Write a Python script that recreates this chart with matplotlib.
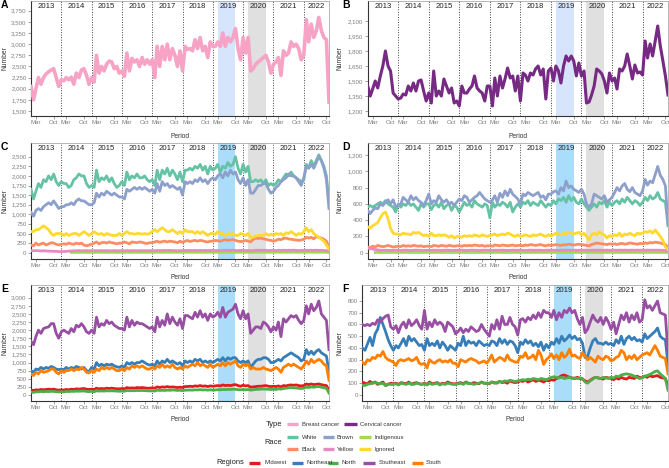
import matplotlib
matplotlib.use('Agg')
import matplotlib.pyplot as plt
from matplotlib.lines import Line2D
from matplotlib.ticker import FuncFormatter
import numpy as np
import pandas as pd

plt.rcParams['font.family'] = ['Liberation Sans', 'DejaVu Sans']

dates = pd.date_range('2013-01-01', '2022-11-01', freq='MS')
years = list(range(2013, 2023))
N = np.nan

# ---- Panel A / B : by type ----
breast = [2050, 1750, 2000, 2250, 2100, 2250, 2330, 2380, 2420, 2450, 2250, 2050,
          2200, 2180, 2250, 2200, 2260, 2100, 2350, 2250, 2420, 2450, 2300, 2100,
          2250, 2150, 2750, 2350, 2500, 2400, 2550, 2620, 2600, 2450, 2500, 2350,
          2400, 2280, 2800, 2400, 2680, 2600, 2650, 2500, 2700, 2550, 2650, 2550,
          2650, 2250, 2950, 2500, 2950, 2650, 3000, 2650, 2900, 2750, 2500, 2850,
          2400, 2950, 2880, 2900, 2850, 3100, 2900, 3150, 2850, 2950, 2700, 3050,
          2950, 2950, 3050, 2950, 3250, 2950, 3150, 3050, 3150, 3350, 2900, 2650,
          3150, 2800, 3150, 2400, 2450, 2550, 2600, 2650, 2700, 2750, 2600, 2350,
          2550, 2600, 2700, 2300, 2850, 2750, 2800, 3050, 2950, 3000, 2900, 2650,
          2750, 3550, 3050, 3450, 3150, 3300, 3600, 3300, 3150, 3100, 1700]
cervical = [1450, 1350, 1420, 1500, 1430, 1550, 1650, 1800, 1650, 1600, 1380, 1350,
            1320, 1330, 1370, 1360, 1450, 1400, 1480, 1400, 1500, 1510, 1400, 1300,
            1380, 1280, 1600, 1350, 1400, 1350, 1520, 1450, 1380, 1430, 1280, 1300,
            1250, 1450, 1380, 1380, 1420, 1450, 1550, 1430, 1400, 1380, 1300, 1450,
            1450, 1250, 1530, 1350, 1550, 1430, 1520, 1630, 1530, 1550, 1400, 1550,
            1300, 1580, 1560, 1500, 1580, 1560, 1620, 1650, 1560, 1620, 1320, 1600,
            1630, 1500, 1650, 1600, 1480, 1650, 1750, 1700, 1750, 1700, 1550, 1680,
            1550, 1600, 1280, 1290, 1360, 1450, 1620, 1600, 1570, 1500, 1380, 1580,
            1500, 1530, 1420, 1620, 1600, 1650, 1770, 1650, 1520, 1660, 1580, 1590,
            1560, 1900, 1730, 1870, 1750, 1900, 2050, 1850, 1700, 1550, 1360]

# ---- Panel C : by race (total) ----
c_white = [1650, 1400, 1600, 1800, 1700, 1900, 1850, 2000, 1900, 2050, 1850, 1750,
           1850, 1800, 1800, 1700, 1750, 1900, 1950, 2050, 2000, 2000, 1800, 1700,
           1750, 1700, 2150, 1850, 1950, 1900, 2000, 1850, 1950, 1800, 1700, 1750,
           1850, 1750, 2100, 1900, 2000, 1950, 2050, 1950, 1950, 2000, 1900, 1850,
           1900, 1750, 2150, 1900, 2150, 2050, 2200, 2000, 2150, 2050, 1900, 2100,
           1850, 2150, 2150, 2200, 2150, 2250, 2200, 2300, 2150, 2250, 2050, 2250,
           2150, 2200, 2300, 2100, 2250, 2200, 2350, 2250, 2300, 2500, 2200, 2050,
           2300, 2100, 2250, 1850, 1850, 1900, 1850, 1900, 1800, 1900, 1750, 1800,
           1750, 1800, 1900, 1850, 1950, 2050, 2000, 2100, 2000, 1950, 1900, 1850,
           1900, 2300, 2200, 2400, 2250, 2400, 2550, 2400, 2250, 2000, 1300]
c_brown = [1050, 950, 1100, 1150, 1100, 1200, 1250, 1300, 1250, 1350, 1250, 1150,
           1200, 1200, 1250, 1250, 1300, 1250, 1350, 1400, 1350, 1350, 1300, 1250,
           1250, 1300, 1550, 1450, 1550, 1500, 1600, 1550, 1500, 1550, 1500, 1450,
           1450, 1400, 1650, 1600, 1650, 1700, 1650, 1700, 1650, 1700, 1650, 1600,
           1650, 1550, 1800, 1600, 1850, 1750, 1800, 1700, 1750, 1700, 1650, 1700,
           1500, 1850, 1800, 1850, 1800, 1900, 1850, 1950, 1850, 1900, 1800, 1900,
           1950, 1900, 2000, 2050, 1950, 2100, 2000, 2150, 2050, 2100, 1900, 1800,
           1950, 1750, 1900, 1550, 1550, 1650, 1750, 1750, 1800, 1800, 1650, 1550,
           1600, 1700, 1750, 1850, 1900, 1950, 2050, 2000, 2000, 1950, 1850, 1750,
           1950, 2250, 2200, 2300, 2200, 2350, 2500, 2400, 2200, 1900, 1150]
c_indigenous = [N, N, N, N, N, N, N, N, N, N, N, N,
                N, N, N, N, 8, 7, 9, 8, 10, 9, 8, 7,
                8, 7, 9, 8, 10, 9, 8, 9, 10, 8, 7, 8,
                9, 8, 10, 9, 8, 10, 9, 8, 9, 10, 8, 9,
                10, 9, 11, 10, 9, 10, 11, 10, 9, 10, 9, 10,
                10, 11, 10, 12, 11, 10, 11, 12, 11, 10, 11, 10,
                11, 10, 12, 11, 10, 12, 11, 12, 11, 10, 11, 12,
                11, 10, 11, 9, 10, 11, 12, 11, 10, 11, 10, 11,
                12, 11, 12, 11, 13, 12, 11, 12, 13, 12, 11, 12,
                12, 13, 12, 14, 13, 12, 13, 12, 11, 10, 5]
c_black = [200, 180, 250, 200, 230, 250, 200, 230, 260, 250, 220, 200,
           220, 230, 220, 250, 230, 220, 250, 230, 250, 200, 180, 200,
           220, 250, 280, 230, 260, 270, 250, 280, 260, 250, 230, 250,
           250, 280, 260, 230, 280, 270, 260, 280, 270, 250, 240, 260,
           260, 280, 300, 270, 290, 300, 280, 300, 290, 280, 260, 300,
           270, 300, 320, 290, 310, 320, 300, 320, 310, 290, 280, 300,
           300, 320, 310, 300, 320, 340, 320, 330, 340, 320, 300, 290,
           300, 320, 300, 280, 350, 380, 370, 380, 360, 350, 330, 320,
           300, 320, 350, 340, 370, 380, 360, 350, 340, 330, 320, 330,
           350, 400, 380, 400, 360, 420, 400, 380, 350, 300, 150]
c_yellow = [55, 50, 55, 50, 45, 50, 45, 40, 40, 35, 35, 30,
            30, 30, 35, 40, 45, 50, 50, 55, 50, 50, 55, 50,
            55, 50, 55, 50, 55, 50, 55, 50, 50, 55, 50, 50,
            55, 50, 55, 50, 55, 55, 50, 55, 50, 55, 50, 55,
            55, 50, 60, 55, 55, 60, 55, 60, 55, 55, 50, 55,
            55, 60, 55, 60, 55, 60, 55, 60, 55, 60, 55, 60,
            60, 55, 60, 55, 60, 65, 60, 60, 65, 60, 55, 60,
            60, 55, 60, 50, 55, 60, 65, 60, 65, 60, 55, 60,
            60, 55, 65, 60, 65, 60, 65, 60, 65, 60, 55, 60,
            60, 65, 60, 65, 60, 65, 60, 60, 58, 55, 40]
c_ignored = [550, 550, 600, 600, 650, 700, 650, 600, 500, 450, 500, 500,
             500, 450, 500, 450, 480, 500, 500, 450, 500, 550, 500, 450,
             500, 550, 500, 480, 500, 450, 500, 480, 450, 450, 450, 500,
             450, 500, 550, 500, 500, 480, 500, 500, 480, 500, 480, 500,
             550, 600, 550, 600, 650, 600, 550, 550, 600, 550, 500, 550,
             500, 600, 550, 550, 550, 500, 550, 500, 550, 500, 450, 500,
             500, 480, 550, 500, 500, 450, 500, 480, 500, 450, 450, 500,
             480, 450, 500, 400, 400, 430, 450, 450, 450, 500, 450, 480,
             450, 500, 480, 500, 450, 520, 500, 550, 500, 450, 500, 480,
             550, 650, 550, 600, 500, 450, 400, 350, 300, 200, 100]

# ---- Panel D : by race (cervical) ----
d_white = [560, 580, 560, 580, 600, 620, 600, 640, 600, 580, 560, 500,
           600, 560, 600, 580, 620, 580, 600, 560, 520, 600, 560, 600,
           600, 530, 580, 600, 560, 620, 540, 580, 600, 520, 580, 560,
           500, 560, 620, 580, 600, 560, 640, 600, 580, 560, 600, 580,
           430, 620, 560, 600, 580, 620, 600, 560, 620, 500, 560, 600,
           560, 620, 600, 640, 580, 620, 600, 580, 640, 600, 560, 600,
           580, 640, 600, 660, 640, 680, 620, 700, 640, 680, 620, 600,
           660, 600, 560, 520, 560, 600, 560, 620, 600, 640, 560, 620,
           580, 620, 640, 600, 660, 620, 680, 640, 600, 640, 620, 580,
           620, 680, 640, 700, 660, 680, 740, 660, 640, 620, 330]
d_brown = [520, 480, 520, 550, 540, 600, 580, 620, 650, 600, 650, 560,
           580, 600, 680, 650, 620, 700, 650, 680, 640, 620, 580, 640,
           720, 600, 640, 620, 700, 650, 620, 650, 600, 620, 580, 620,
           660, 640, 700, 680, 620, 650, 680, 700, 740, 700, 660, 640,
           620, 650, 700, 620, 730, 680, 760, 700, 780, 720, 690, 660,
           600, 720, 700, 740, 720, 700, 720, 740, 680, 700, 650, 720,
           720, 750, 760, 720, 800, 760, 880, 800, 820, 780, 760, 740,
           780, 720, 600, 560, 600, 720, 700, 680, 660, 700, 620, 650,
           680, 740, 800, 760, 820, 850, 780, 750, 800, 740, 720, 700,
           760, 900, 830, 880, 860, 960, 1060, 950, 900, 820, 350]
d_indigenous = [N, N, N, 3, 4, 3, 4, 3, 4, 3, 4, 3,
                3, 4, 3, 4, 3, 4, 3, 4, 3, 4, 3, 4,
                4, 3, 4, 3, 4, 3, 4, 3, 4, 3, 4, 3,
                3, 4, 3, 4, 3, 4, 3, 4, 3, 4, 3, 4,
                4, 3, 4, 3, 4, 3, 4, 3, 4, 3, 4, 3,
                3, 4, 3, 4, 3, 4, 3, 4, 3, 4, 3, 4,
                4, 3, 4, 3, 4, 3, 4, 3, 4, 3, 4, 3,
                3, 4, 3, 4, 3, 4, 3, 4, 3, 4, 3, 4,
                4, 3, 4, 3, 4, 3, 4, 3, 4, 3, 4, 3,
                3, 4, 3, 4, 3, 4, 3, 4, 3, 3, 2]
d_black = [70, 60, 80, 70, 90, 80, 75, 80, 90, 80, 70, 75,
           80, 75, 90, 80, 85, 80, 90, 85, 80, 85, 75, 80,
           80, 75, 90, 85, 80, 90, 85, 80, 90, 85, 80, 85,
           85, 80, 90, 85, 90, 85, 95, 90, 85, 90, 80, 85,
           85, 80, 95, 90, 85, 95, 90, 85, 90, 95, 85, 90,
           90, 85, 95, 90, 100, 95, 90, 95, 100, 90, 85, 95,
           90, 95, 100, 95, 90, 100, 95, 105, 100, 95, 100, 105,
           100, 95, 90, 85, 100, 110, 120, 115, 110, 105, 100, 110,
           105, 110, 100, 110, 115, 105, 110, 120, 115, 110, 105, 115,
           110, 120, 115, 125, 120, 130, 125, 120, 110, 100, 60]
d_yellow = [55, 50, 45, 40, 35, 30, 30, 30, 30, 28, 30, 30,
            30, 28, 30, 32, 30, 28, 30, 32, 30, 30, 28, 30,
            30, 28, 32, 30, 30, 28, 30, 32, 30, 28, 30, 30,
            30, 32, 30, 28, 30, 32, 30, 30, 28, 30, 32, 30,
            30, 28, 32, 30, 30, 32, 30, 28, 30, 32, 30, 30,
            32, 30, 28, 30, 32, 30, 30, 32, 30, 28, 30, 32,
            30, 32, 30, 28, 32, 30, 32, 30, 30, 32, 30, 30,
            30, 32, 30, 28, 30, 32, 30, 32, 30, 30, 32, 30,
            30, 32, 30, 32, 30, 32, 30, 30, 32, 30, 32, 30,
            32, 30, 32, 30, 32, 30, 32, 30, 30, 28, 20]
d_ignored = [320, 300, 330, 350, 370, 430, 480, 500, 420, 300, 240, 230,
             230, 220, 240, 230, 230, 220, 250, 240, 250, 230, 210, 220,
             200, 240, 210, 210, 220, 210, 220, 210, 190, 210, 180, 200,
             200, 190, 210, 200, 210, 200, 220, 210, 200, 220, 210, 200,
             210, 220, 230, 210, 220, 230, 220, 240, 230, 210, 200, 220,
             200, 210, 220, 210, 200, 220, 210, 220, 230, 210, 200, 220,
             210, 220, 240, 230, 220, 240, 230, 250, 240, 230, 240, 250,
             220, 240, 200, 160, 220, 240, 220, 260, 230, 220, 180, 210,
             200, 220, 210, 240, 200, 230, 220, 240, 220, 210, 240, 230,
             240, 260, 250, 270, 240, 280, 240, 200, 150, 70, 40]

# ---- Panel E : by region (total) ----
e_midwest = [150, 140, 160, 150, 170, 160, 170, 180, 170, 180, 160, 150,
             160, 150, 170, 160, 180, 170, 190, 180, 190, 200, 180, 170,
             180, 170, 210, 190, 200, 190, 210, 200, 210, 200, 190, 190,
             200, 190, 230, 210, 220, 210, 230, 220, 230, 220, 210, 210,
             220, 210, 250, 230, 250, 240, 260, 240, 250, 240, 230, 240,
             230, 260, 260, 270, 260, 280, 270, 290, 270, 280, 260, 280,
             270, 280, 290, 280, 310, 290, 300, 290, 310, 320, 290, 270,
             300, 280, 290, 240, 250, 260, 270, 270, 280, 290, 270, 260,
             270, 260, 280, 250, 290, 280, 300, 310, 300, 310, 290, 280,
             290, 340, 320, 340, 320, 330, 340, 320, 300, 290, 150]
e_northeast = [750, 700, 800, 780, 850, 800, 850, 820, 880, 850, 800, 780,
               800, 780, 850, 800, 850, 820, 880, 850, 800, 850, 750, 720,
               850, 800, 1000, 900, 950, 900, 950, 920, 950, 900, 870, 850,
               900, 850, 1000, 950, 1000, 950, 1000, 1000, 1050, 1000, 950, 920,
               950, 900, 1050, 950, 1050, 1000, 1100, 1000, 1050, 1000, 950, 1000,
               900, 1050, 1000, 1050, 1000, 1100, 1050, 1100, 1000, 1050, 1000, 1050,
               1000, 1050, 1100, 1050, 1150, 1050, 1150, 1100, 1150, 1150, 1050, 1000,
               1050, 1000, 1050, 850, 950, 1050, 1100, 1100, 1150, 1150, 1100, 1000,
               1000, 1050, 1100, 1050, 1150, 1200, 1250, 1300, 1250, 1200, 1150, 1050,
               1100, 1400, 1250, 1350, 1250, 1350, 1400, 1300, 1250, 1200, 700]
e_north = [90, 80, 100, 95, 110, 100, 110, 105, 115, 110, 100, 95,
           100, 95, 110, 105, 115, 110, 120, 115, 120, 125, 110, 105,
           110, 100, 130, 120, 125, 120, 130, 125, 130, 125, 120, 115,
           120, 115, 140, 130, 135, 130, 140, 135, 140, 135, 130, 125,
           130, 120, 150, 140, 145, 140, 150, 145, 155, 150, 140, 145,
           135, 150, 150, 155, 150, 160, 155, 165, 155, 160, 150, 160,
           150, 155, 165, 160, 170, 165, 175, 170, 180, 175, 165, 160,
           170, 160, 170, 150, 160, 170, 175, 180, 185, 180, 175, 170,
           175, 170, 190, 180, 200, 210, 220, 230, 220, 215, 205, 200,
           210, 240, 230, 250, 240, 255, 260, 240, 220, 210, 60]
e_southeast = [1650, 1550, 1800, 2000, 1900, 2050, 2080, 2100, 2200, 2200, 1900, 1750,
               1950, 2000, 1950, 1900, 2050, 1950, 2150, 2100, 2200, 2100, 1950, 1900,
               2000, 1900, 2400, 2100, 2200, 2150, 2300, 2200, 2250, 2150, 2100, 2050,
               2050, 2000, 2400, 2100, 2300, 2150, 2250, 2200, 2200, 2150, 2100, 2050,
               2100, 1950, 2400, 2100, 2300, 2150, 2500, 2200, 2400, 2250, 2150, 2350,
               2050, 2450, 2450, 2400, 2350, 2550, 2400, 2600, 2400, 2500, 2300, 2500,
               2400, 2450, 2550, 2400, 2700, 2400, 2550, 2600, 2650, 2800, 2500, 2350,
               2600, 2350, 2500, 1900, 2000, 2100, 2100, 2050, 2250, 2200, 2100, 1950,
               2100, 2000, 2250, 1800, 2350, 2250, 2350, 2450, 2400, 2450, 2300, 2200,
               2300, 2750, 2500, 2800, 2600, 2700, 2900, 2500, 2400, 2300, 1400]
e_south = [650, 600, 700, 650, 750, 700, 720, 750, 800, 800, 700, 650,
           750, 700, 750, 750, 800, 750, 800, 780, 850, 800, 700, 680,
           750, 700, 800, 750, 850, 800, 850, 800, 850, 800, 750, 750,
           800, 750, 850, 800, 900, 850, 900, 850, 900, 850, 800, 800,
           850, 800, 900, 850, 950, 850, 900, 850, 950, 850, 800, 850,
           800, 900, 850, 900, 950, 900, 1000, 900, 950, 900, 850, 950,
           850, 900, 950, 900, 1000, 900, 1000, 950, 1000, 1050, 900, 850,
           950, 900, 950, 800, 850, 800, 800, 800, 850, 800, 780, 750,
           800, 850, 800, 700, 850, 900, 950, 900, 950, 900, 850, 800,
           900, 1050, 950, 1100, 1000, 1050, 1100, 1050, 950, 900, 450]

# ---- Panel F : by region (cervical) ----
f_midwest = [110, 100, 95, 115, 100, 110, 90, 100, 110, 80, 90, 100,
             95, 100, 90, 105, 100, 95, 110, 90, 100, 105, 95, 90,
             100, 90, 110, 95, 100, 105, 90, 100, 95, 110, 100, 95,
             95, 100, 105, 95, 110, 100, 95, 105, 100, 95, 110, 100,
             100, 95, 110, 105, 100, 115, 105, 110, 100, 120, 110, 105,
             110, 120, 115, 125, 110, 120, 130, 115, 125, 120, 110, 125,
             120, 130, 125, 140, 150, 165, 170, 160, 150, 145, 140, 150,
             140, 135, 120, 110, 125, 140, 150, 145, 140, 135, 150, 145,
             140, 130, 145, 135, 150, 140, 135, 150, 145, 140, 160, 150,
             145, 160, 150, 165, 155, 160, 165, 150, 145, 140, 80]
f_northeast = [400, 380, 430, 490, 420, 520, 560, 660, 600, 540, 470, 420,
               380, 420, 400, 440, 480, 420, 500, 460, 480, 450, 420, 430,
               380, 480, 420, 440, 420, 460, 400, 450, 420, 380, 420, 400,
               380, 440, 420, 500, 420, 460, 440, 450, 420, 460, 440, 420,
               430, 420, 460, 450, 420, 480, 440, 470, 430, 460, 450, 420,
               360, 450, 430, 470, 440, 460, 420, 440, 410, 450, 380, 430,
               400, 450, 430, 480, 440, 500, 460, 480, 510, 480, 500, 470,
               480, 440, 320, 330, 400, 460, 480, 440, 440, 430, 450, 430,
               440, 420, 470, 440, 500, 430, 480, 500, 470, 490, 460, 470,
               450, 520, 480, 500, 520, 540, 570, 500, 480, 470, 260]
f_north = [85, 80, 90, 95, 100, 105, 100, 95, 100, 80, 95, 90,
           90, 95, 85, 100, 95, 90, 100, 95, 90, 100, 95, 90,
           95, 85, 100, 90, 95, 100, 85, 95, 90, 100, 95, 90,
           90, 95, 100, 90, 105, 95, 100, 90, 95, 100, 105, 100,
           95, 100, 110, 100, 105, 115, 110, 120, 115, 125, 120, 115,
           120, 125, 130, 125, 135, 130, 140, 135, 130, 140, 135, 130,
           140, 150, 155, 150, 145, 150, 140, 145, 150, 140, 145, 140,
           145, 140, 110, 100, 120, 135, 150, 145, 140, 150, 145, 140,
           150, 145, 160, 155, 170, 175, 180, 175, 170, 160, 150, 140,
           145, 160, 165, 175, 185, 200, 205, 180, 160, 140, 40]
f_southeast = [600, 590, 600, 590, 610, 600, 640, 620, 650, 670, 680, 580,
               560, 590, 530, 590, 620, 570, 640, 590, 610, 640, 590, 560,
               720, 560, 620, 580, 640, 600, 620, 600, 540, 620, 600, 580,
               520, 540, 570, 530, 560, 540, 580, 560, 540, 550, 600, 560,
               530, 500, 600, 560, 640, 560, 670, 600, 600, 660, 600, 580,
               510, 640, 650, 620, 660, 640, 680, 650, 700, 660, 720, 700,
               700, 660, 720, 640, 700, 660, 720, 700, 740, 700, 720, 650,
               600, 660, 530, 560, 620, 680, 640, 620, 660, 600, 660, 620,
               560, 620, 520, 600, 680, 640, 700, 620, 680, 640, 700, 620,
               640, 810, 740, 760, 720, 760, 800, 700, 690, 680, 360]
f_south = [280, 260, 300, 290, 320, 310, 340, 330, 370, 320, 300, 290,
           280, 250, 290, 300, 290, 300, 310, 290, 300, 320, 270, 260,
           270, 230, 300, 280, 270, 290, 300, 280, 290, 280, 300, 270,
           270, 240, 300, 290, 280, 300, 310, 300, 290, 270, 280, 290,
           270, 300, 340, 280, 300, 320, 310, 290, 340, 300, 290, 280,
           280, 330, 320, 360, 310, 320, 340, 300, 380, 340, 260, 300,
           320, 350, 310, 340, 300, 360, 320, 340, 390, 330, 340, 320,
           310, 360, 330, 300, 320, 300, 280, 330, 310, 300, 330, 320,
           290, 300, 320, 330, 380, 360, 300, 330, 310, 340, 300, 320,
           340, 350, 360, 340, 380, 420, 380, 330, 320, 310, 180]

type_labels = ['Breast cancer', 'Cervical cancer']
type_colors = ['#F6A3C5', '#762A83']
race_labels = ['White', 'Brown', 'Indigenous', 'Black', 'Yellow', 'Ignored']
race_colors = ['#66C2A5', '#8DA0CB', '#A6D854', '#FC8D62', '#E78AC3', '#FFD92F']
region_labels = ['Midwest', 'Northeast', 'North', 'Southeast', 'South']
region_colors = ['#E41A1C', '#377EB8', '#4DAF4A', '#984EA3', '#FF7F00']

W, H = 669, 468
fig = plt.figure(figsize=(W / 100, H / 100), dpi=100)


def ax_at(l, t, r, b):
    return fig.add_axes([l / W, 1 - b / H, (r - l) / W, (b - t) / H])


def fmt(v, p):
    return f'{v:,.0f}'


def setup(ax, ylim, yticks, hl, ylab_px, xlab_px):
    ax.set_xlim(dates[0], dates[-1])
    ax.set_ylim(*ylim)
    ax.axvspan(pd.Timestamp('2019-03-01'), pd.Timestamp('2019-09-30'), color=hl, lw=0, zorder=0)
    ax.axvspan(pd.Timestamp('2020-03-01'), pd.Timestamp('2020-09-30'), color='#E0E0E0', lw=0, zorder=0)
    for y in years[1:]:
        ax.axvline(pd.Timestamp(f'{y}-01-01'), color='#444444', ls=(0, (1, 1.6)), lw=0.7, zorder=1)
    for y in years:
        s = pd.Timestamp(f'{y}-01-01')
        e = min(pd.Timestamp(f'{y + 1}-01-01'), dates[-1])
        ax.text(s + (e - s) / 2, 0.955, str(y), transform=ax.get_xaxis_transform(),
                ha='center', va='center', fontsize=5.6, color='#222222', zorder=5)
    ticks, labels = [], []
    for y in years:
        ticks += [pd.Timestamp(f'{y}-03-01'), pd.Timestamp(f'{y}-10-01')]
        labels += ['Mar', 'Oct']
    ax.set_xticks(ticks)
    ax.set_xticklabels(labels)
    ax.set_yticks(yticks)
    ax.yaxis.set_major_formatter(FuncFormatter(fmt))
    ax.tick_params(labelsize=4.4, colors='#7F7F7F', length=2, width=0.5, pad=1.2)
    for s in ['top', 'right']:
        ax.spines[s].set_color('#9A9A9A')
        ax.spines[s].set_linewidth(0.5)
    for s in ['left', 'bottom']:
        ax.spines[s].set_color('#333333')
        ax.spines[s].set_linewidth(0.8)
    bb = ax.get_position()
    ax.set_ylabel('Number', fontsize=4.8, color='#333333')
    ax.yaxis.set_label_coords((ylab_px / W - bb.x0) / bb.width, 0.5)
    ax.set_xlabel('Period', fontsize=4.8, color='#333333')
    ax.xaxis.set_label_coords(0.5, (1 - xlab_px / H - bb.y0) / bb.height)


def panel_letter(x, y, s):
    fig.text(x / W, 1 - y / H, s, fontsize=7.5, fontweight='bold', va='top', ha='left')


# Panel A
axA = ax_at(31, 1, 329, 116)
setup(axA, (1388, 3968), np.arange(1500, 3751, 250), '#D6E4FC', 8, 133)
axA.plot(dates, breast, color=type_colors[0], lw=2.6, zorder=3)
panel_letter(1, 0, 'A')

# Panel B
axB = ax_at(367.7, 1, 668, 116)
setup(axB, (1150, 2300), np.arange(1200, 2101, 150), '#D6E4FC', 344, 133)
axB.plot(dates, cervical, color=type_colors[1], lw=2.2, zorder=3)
panel_letter(342, 0, 'B')

# Panel C
axC = ax_at(31, 143.3, 329, 259)
setup(axC, (-164, 2849), np.arange(0, 2501, 250), '#A9DDF9', 8, 274)
for vals, col in zip([c_white, c_brown, c_indigenous, c_black, c_yellow, c_ignored], race_colors):
    axC.plot(dates, vals, color=col, lw=2.0, zorder=3)
panel_letter(1, 142, 'C')

# Panel D
axD = ax_at(367.7, 143.3, 668, 259)
setup(axD, (-77, 1344), np.arange(0, 1201, 200), '#A9DDF9', 344, 274)
for vals, col in zip([d_white, d_brown, d_indigenous, d_black, d_yellow, d_ignored], race_colors):
    axD.plot(dates, vals, color=col, lw=2.0, zorder=3)
panel_letter(342, 142, 'D')

# Panel E
axE = ax_at(31, 285, 329, 400.7)
setup(axE, (-176, 3392), np.arange(0, 3001, 250), '#A9DDF9', 8, 416)
for vals, col in zip([e_midwest, e_northeast, e_north, e_southeast, e_south], region_colors):
    axE.plot(dates, vals, color=col, lw=2.0, zorder=3)
panel_letter(1, 284, 'E')

# Panel F
axF = ax_at(362.3, 285, 668, 400.7)
setup(axF, (-49, 936), np.arange(0, 801, 100), '#A9DDF9', 344, 416)
for vals, col in zip([f_midwest, f_northeast, f_north, f_southeast, f_south], region_colors):
    axF.plot(dates, vals, color=col, lw=2.0, zorder=3)
panel_letter(342, 284, 'F')


# ---- Legend ----
def key(x1, x2, y, col, label, tx):
    fig.add_artist(Line2D([x1 / W, x2 / W], [1 - y / H, 1 - y / H], transform=fig.transFigure,
                          color=col, lw=2.4, solid_capstyle='butt'))
    fig.text(tx / W, 1 - y / H, label, fontsize=4.3, color='#333333', va='center', ha='left')


def title(xr, y, s):
    fig.text(xr / W, 1 - y / H, s, fontsize=5.4, color='#222222', va='center', ha='right')


title(282, 424, 'Type')
key(286.7, 298.3, 424, type_colors[0], type_labels[0], 301.7)
key(344, 356.7, 424, type_colors[1], type_labels[1], 359.7)

title(282, 443, 'Race')
rx = [(287, 298, 302), (322.7, 334.3, 336.7), (359.3, 371, 375)]
for i in range(6):
    row, colm = divmod(i, 3)
    x1, x2, tx = rx[colm]
    key(x1, x2, 437.3 + 12 * row, race_colors[i], race_labels[i], tx)

title(244, 462.7, 'Regions')
gx = [(248.7, 260, 264.3), (291.7, 302.7, 306.7), (327.7, 338.3, 342), (363.3, 375, 378.7), (411.7, 422.7, 425.7)]
for i in range(5):
    x1, x2, tx = gx[i]
    key(x1, x2, 462.7, region_colors[i], region_labels[i], tx)

fig.savefig('out.png', dpi=100)
